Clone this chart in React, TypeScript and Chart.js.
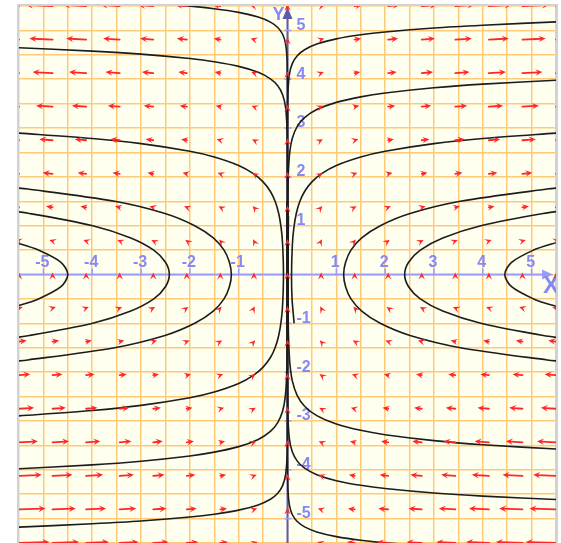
import { useEffect, useRef } from 'react';
import { Chart, registerables } from 'chart.js';

Chart.register(...registerables);

// ---- axis ranges / ticks ----
const X_RANGE = [-5.5, 5.5];
const Y_RANGE = [-5.5, 5.5];
const GRID_STEP = 0.5;
const X_TICKS = [-5, -4, -3, -2, -1, 1, 2, 3, 4, 5];
const X_TICK_LABELS = ['-5', '-4', '-3', '-2', '-1', '1', '2', '3', '4', '5'];
const Y_TICKS = [5, 4, 3, 2, 1, -1, -2, -3, -4, -5];
const Y_TICK_LABELS = ['5', '4', '3', '2', '1', '-1', '-2', '-3', '-4', '-5'];

// ---- direction field: arrow nodes and their components (dx = x*y, dy = 1) ----
const ARROW_XS = [-5.5, -4.8125, -4.125, -3.4375, -2.75, -2.0625, -1.375, -0.6875, 0, 0.6875, 1.375, 2.0625, 2.75, 3.4375, 4.125, 4.8125, 5.5];
const ARROW_YS = [5.5, 4.8125, 4.125, 3.4375, 2.75, 2.0625, 1.375, 0.6875, 0, -0.6875, -1.375, -2.0625, -2.75, -3.4375, -4.125, -4.8125, -5.5];
const FIELD_U = [
  [-30.3, -26.5, -22.7, -18.9, -15.1, -11.3, -7.6, -3.8, 0, 3.8, 7.6, 11.3, 15.1, 18.9, 22.7, 26.5, 30.3],
  [-26.5, -23.2, -19.9, -16.5, -13.2, -9.9, -6.6, -3.3, 0, 3.3, 6.6, 9.9, 13.2, 16.5, 19.9, 23.2, 26.5],
  [-22.7, -19.9, -17.0, -14.2, -11.3, -8.5, -5.7, -2.8, 0, 2.8, 5.7, 8.5, 11.3, 14.2, 17.0, 19.9, 22.7],
  [-18.9, -16.5, -14.2, -11.8, -9.5, -7.1, -4.7, -2.4, 0, 2.4, 4.7, 7.1, 9.5, 11.8, 14.2, 16.5, 18.9],
  [-15.1, -13.2, -11.3, -9.5, -7.6, -5.7, -3.8, -1.9, 0, 1.9, 3.8, 5.7, 7.6, 9.5, 11.3, 13.2, 15.1],
  [-11.3, -9.9, -8.5, -7.1, -5.7, -4.3, -2.8, -1.4, 0, 1.4, 2.8, 4.3, 5.7, 7.1, 8.5, 9.9, 11.3],
  [-7.6, -6.6, -5.7, -4.7, -3.8, -2.8, -1.9, -0.9, 0, 0.9, 1.9, 2.8, 3.8, 4.7, 5.7, 6.6, 7.6],
  [-3.8, -3.3, -2.8, -2.4, -1.9, -1.4, -0.9, -0.5, 0, 0.5, 0.9, 1.4, 1.9, 2.4, 2.8, 3.3, 3.8],
  [0, 0, 0, 0, 0, 0, 0, 0, 0, 0, 0, 0, 0, 0, 0, 0, 0],
  [3.8, 3.3, 2.8, 2.4, 1.9, 1.4, 0.9, 0.5, 0, -0.5, -0.9, -1.4, -1.9, -2.4, -2.8, -3.3, -3.8],
  [7.6, 6.6, 5.7, 4.7, 3.8, 2.8, 1.9, 0.9, 0, -0.9, -1.9, -2.8, -3.8, -4.7, -5.7, -6.6, -7.6],
  [11.3, 9.9, 8.5, 7.1, 5.7, 4.3, 2.8, 1.4, 0, -1.4, -2.8, -4.3, -5.7, -7.1, -8.5, -9.9, -11.3],
  [15.1, 13.2, 11.3, 9.5, 7.6, 5.7, 3.8, 1.9, 0, -1.9, -3.8, -5.7, -7.6, -9.5, -11.3, -13.2, -15.1],
  [18.9, 16.5, 14.2, 11.8, 9.5, 7.1, 4.7, 2.4, 0, -2.4, -4.7, -7.1, -9.5, -11.8, -14.2, -16.5, -18.9],
  [22.7, 19.9, 17.0, 14.2, 11.3, 8.5, 5.7, 2.8, 0, -2.8, -5.7, -8.5, -11.3, -14.2, -17.0, -19.9, -22.7],
  [26.5, 23.2, 19.9, 16.5, 13.2, 9.9, 6.6, 3.3, 0, -3.3, -6.6, -9.9, -13.2, -16.5, -19.9, -23.2, -26.5],
  [30.3, 26.5, 22.7, 18.9, 15.1, 11.3, 7.6, 3.8, 0, -3.8, -7.6, -11.3, -15.1, -18.9, -22.7, -26.5, -30.3],
];
const FIELD_V = 1;

// ---- solution curves, points [x, y] ----
const CURVE_VR1 = [[5.81, -1.8], [5.32, -1.75], [3.54, -1.5], [2.51, -1.25], [1.9, -1], [1.52, -0.75], [1.3, -0.5], [1.19, -0.25], [1.15, 0], [1.19, 0.25], [1.3, 0.5], [1.52, 0.75], [1.9, 1], [2.51, 1.25], [3.54, 1.5], [5.32, 1.75], [5.81, 1.8]];
const CURVE_VR2 = [[5.97, -1.35], [5.24, -1.25], [3.96, -1], [3.18, -0.75], [2.72, -0.5], [2.48, -0.25], [2.4, 0], [2.48, 0.25], [2.72, 0.5], [3.18, 0.75], [3.96, 1], [5.24, 1.25], [5.97, 1.35]];
const CURVE_VR3 = [[5.9, -0.75], [5.41, -0.625], [5.04, -0.5], [4.59, -0.25], [4.45, 0], [4.59, 0.25], [5.04, 0.5], [5.41, 0.625], [5.9, 0.75]];
const CURVE_VL1 = [[-5.81, -1.8], [-5.32, -1.75], [-3.54, -1.5], [-2.51, -1.25], [-1.9, -1], [-1.52, -0.75], [-1.3, -0.5], [-1.19, -0.25], [-1.15, 0], [-1.19, 0.25], [-1.3, 0.5], [-1.52, 0.75], [-1.9, 1], [-2.51, 1.25], [-3.54, 1.5], [-5.32, 1.75], [-5.81, 1.8]];
const CURVE_VL2 = [[-6.02, -1.35], [-5.29, -1.25], [-3.99, -1], [-3.21, -0.75], [-2.74, -0.5], [-2.5, -0.25], [-2.42, 0], [-2.5, 0.25], [-2.74, 0.5], [-3.21, 0.75], [-3.99, 1], [-5.29, 1.25], [-6.02, 1.35]];
const CURVE_VL3 = [[-5.96, -0.75], [-5.47, -0.625], [-5.1, -0.5], [-4.64, -0.25], [-4.5, 0], [-4.64, 0.25], [-5.1, 0.5], [-5.47, 0.625], [-5.96, 0.75]];

const CURVE_UR1 = [[5.6, 5.18], [4, 5.106], [3, 5.05], [2, 4.969], [1.5, 4.911], [1, 4.827], [0.6, 4.72], [0.35, 4.605], [0.2, 4.482], [0.1, 4.324], [0.04, 4.107], [0.01, 3.754], [0.002, 3.3], [0.0001, 2.2], [0, 1], [0, -1.5]];
const CURVE_UR2 = [[5.6, 3.984], [4, 3.899], [3, 3.824], [2, 3.717], [1.5, 3.639], [1, 3.526], [0.6, 3.378], [0.35, 3.214], [0.2, 3.035], [0.1, 2.797], [0.05, 2.537], [0.02, 2.146], [0.008, 1.665], [0.003, 0.9], [0.002, 0], [0.003, -0.9], [0.006, -1.5]];
const CURVE_UR3 = [[5.6, 2.904], [4, 2.786], [3, 2.681], [2, 2.525], [1.5, 2.408], [1, 2.234], [0.7, 2.068], [0.5, 1.898], [0.35, 1.7], [0.25, 1.489], [0.18, 1.249], [0.13, 0.954], [0.1, 0.62], [0.0825, 0], [0.0935, -0.5], [0.136, -1]];
const CURVE_ULTOP = [[-3.55, 5.6], [-2.04, 5.5], [-1.5, 5.445], [-1, 5.369], [-0.6, 5.273], [-0.35, 5.169], [-0.2, 5.06], [-0.1, 4.921], [-0.04, 4.731], [-0.01, 4.429], [-0.001, 3.874], [-0.0001, 3.22], [0, 2], [0, -1.5]];
const CURVE_UL2 = [[-5.6, 4.65], [-4, 4.576], [-3, 4.514], [-2, 4.423], [-1.5, 4.358], [-1, 4.263], [-0.6, 4.142], [-0.35, 4.009], [-0.2, 3.868], [-0.1, 3.684], [-0.04, 3.426], [-0.01, 2.994], [-0.002, 2.397], [-0.0003, 1.397], [-0.0001, 0], [-0.0002, -1.2]];
const CURVE_UL3 = [[-5.6, 2.904], [-4, 2.786], [-3, 2.681], [-2, 2.525], [-1.5, 2.408], [-1, 2.234], [-0.7, 2.068], [-0.5, 1.898], [-0.35, 1.7], [-0.25, 1.489], [-0.18, 1.249], [-0.13, 0.954], [-0.1, 0.62], [-0.0825, 0], [-0.1, -0.62], [-0.13, -0.954], [-0.18, -1.249], [-0.25, -1.489], [-0.35, -1.7], [-0.5, -1.898], [-0.7, -2.068], [-1, -2.234], [-1.5, -2.408], [-2, -2.525], [-3, -2.681], [-4, -2.786], [-5.6, -2.904]];
const CURVE_LL1 = [[-5.6, -5.18], [-4, -5.106], [-3, -5.05], [-2, -4.969], [-1.5, -4.911], [-1, -4.827], [-0.6, -4.72], [-0.35, -4.605], [-0.2, -4.482], [-0.1, -4.324], [-0.04, -4.107], [-0.01, -3.754], [-0.002, -3.3], [-0.0001, -2.2], [0, -1], [0, 1.5]];
const CURVE_LL2 = [[-5.6, -3.984], [-4, -3.899], [-3, -3.824], [-2, -3.717], [-1.5, -3.639], [-1, -3.526], [-0.6, -3.378], [-0.35, -3.214], [-0.2, -3.035], [-0.1, -2.797], [-0.05, -2.537], [-0.02, -2.146], [-0.008, -1.665], [-0.003, -0.9], [-0.002, 0], [-0.003, 0.9], [-0.006, 1.5]];
const CURVE_LR1 = [[5.6, -3.581], [4, -3.486], [3, -3.402], [2, -3.281], [1.5, -3.192], [1, -3.062], [0.6, -2.891], [0.35, -2.698], [0.2, -2.481], [0.1, -2.185], [0.05, -1.84], [0.025, -1.414], [0.015, -0.989], [0.0092, 0], [0.019, 1.2]];
const CURVE_LR2 = [[5.6, -4.613], [4, -4.539], [3, -4.476], [2, -4.384], [1.5, -4.318], [1, -4.223], [0.6, -4.1], [0.35, -3.967], [0.2, -3.823], [0.1, -3.637], [0.04, -3.376], [0.01, -2.937], [0.002, -2.325], [0.0004, -1.479], [0.0001, 0], [0.0002, 1.2]];
const CURVE_LRBOT = [[3.55, -5.6], [2.04, -5.5], [1.5, -5.445], [1, -5.369], [0.6, -5.273], [0.35, -5.169], [0.2, -5.06], [0.1, -4.921], [0.04, -4.731], [0.01, -4.429], [0.001, -3.874], [0.0001, -3.22], [0, -2], [0, 1.5]];

const CURVES = [
  CURVE_VR1, CURVE_VR2, CURVE_VR3, CURVE_VL1, CURVE_VL2, CURVE_VL3,
  CURVE_UR1, CURVE_UR2, CURVE_UR3, CURVE_ULTOP, CURVE_UL2, CURVE_UL3,
  CURVE_LL1, CURVE_LL2, CURVE_LR1, CURVE_LR2, CURVE_LRBOT,
];

const ARROW_SCALE = 1 / 48.8; // data units per field unit

const AXIS_COLOR = '#9c9cff';
const Y_AXIS_COLOR = '#5c5cae';
const LABEL_COLOR = '#8888f4';
const LABEL_FONT = 'bold 16px "Liberation Sans", Arial, sans-serif';

const fieldPlugin = {
  id: 'fieldPlugin',
  beforeDraw(chart: any) {
    const { ctx, chartArea: a } = chart;
    ctx.save();
    ctx.fillStyle = '#fffff0';
    ctx.fillRect(a.left, a.top, a.right - a.left, a.bottom - a.top);
    ctx.restore();
  },
  beforeDatasetsDraw(chart: any) {
    const { ctx, chartArea: a, scales } = chart;
    const xs = scales.x, ys = scales.y;
    const x0 = xs.getPixelForValue(0);
    const y0 = ys.getPixelForValue(0);
    ctx.save();
    ctx.beginPath();
    ctx.rect(a.left, a.top, a.right - a.left, a.bottom - a.top);
    ctx.clip();
    // x axis
    const xTip = xs.getPixelForValue(5.44);
    ctx.strokeStyle = AXIS_COLOR;
    ctx.fillStyle = AXIS_COLOR;
    ctx.lineWidth = 2;
    ctx.beginPath();
    ctx.moveTo(a.left, y0);
    ctx.lineTo(xTip - 4, y0);
    ctx.stroke();
    ctx.beginPath();
    ctx.moveTo(xTip, y0);
    ctx.lineTo(xTip - 11, y0 - 5);
    ctx.lineTo(xTip - 11, y0 + 5);
    ctx.closePath();
    ctx.fill();
    // x ticks
    ctx.lineWidth = 1.5;
    for (const v of X_TICKS) {
      const px = xs.getPixelForValue(v);
      ctx.beginPath();
      ctx.moveTo(px, y0 - 6);
      ctx.lineTo(px, y0 + 1);
      ctx.stroke();
    }
    // y axis
    const yTip = ys.getPixelForValue(5.5) + 1;
    ctx.strokeStyle = Y_AXIS_COLOR;
    ctx.fillStyle = Y_AXIS_COLOR;
    ctx.lineWidth = 2;
    ctx.beginPath();
    ctx.moveTo(x0, a.bottom);
    ctx.lineTo(x0, yTip + 4);
    ctx.stroke();
    ctx.beginPath();
    ctx.moveTo(x0, yTip);
    ctx.lineTo(x0 - 5, yTip + 12);
    ctx.lineTo(x0 + 5, yTip + 12);
    ctx.closePath();
    ctx.fill();
    ctx.strokeStyle = AXIS_COLOR;
    ctx.lineWidth = 1.5;
    for (const v of Y_TICKS) {
      const py = ys.getPixelForValue(v);
      ctx.beginPath();
      ctx.moveTo(x0 - 3, py);
      ctx.lineTo(x0 + 4, py);
      ctx.stroke();
    }
    // labels
    ctx.fillStyle = LABEL_COLOR;
    ctx.font = LABEL_FONT;
    ctx.textAlign = 'center';
    ctx.textBaseline = 'middle';
    X_TICKS.forEach((v, i) => {
      ctx.fillText(X_TICK_LABELS[i], xs.getPixelForValue(v) - 1, y0 - 12);
    });
    ctx.textAlign = 'left';
    Y_TICKS.forEach((v, i) => {
      ctx.fillText(Y_TICK_LABELS[i], x0 + 9, ys.getPixelForValue(v) - 5);
    });
    ctx.font = 'bold 24px "Liberation Sans", Arial, sans-serif';
    ctx.textAlign = 'center';
    ctx.fillText('X', xs.getPixelForValue(5.4), y0 + 12);
    ctx.font = 'bold 18px "Liberation Sans", Arial, sans-serif';
    ctx.fillText('Y', x0 - 9, a.top + 9);
    ctx.restore();
  },
  afterDatasetsDraw(chart: any) {
    const { ctx, chartArea: a, scales } = chart;
    const xs = scales.x, ys = scales.y;
    ctx.save();
    ctx.beginPath();
    ctx.rect(a.left, a.top, a.right - a.left, a.bottom - a.top);
    ctx.clip();
    ctx.strokeStyle = '#ff2626';
    ctx.fillStyle = '#ff2626';
    ctx.lineWidth = 1.8;
    ctx.lineCap = 'round';
    ARROW_YS.forEach((yv, r) => {
      ARROW_XS.forEach((xv, c) => {
        const u = FIELD_U[r][c];
        const tx = xs.getPixelForValue(xv);
        const ty = ys.getPixelForValue(yv);
        const hx = xs.getPixelForValue(xv + u * ARROW_SCALE);
        const hy = ys.getPixelForValue(yv + FIELD_V * ARROW_SCALE);
        let dx = hx - tx, dy = hy - ty;
        const len = Math.hypot(dx, dy) || 1;
        const ux = dx / len, uy = dy / len;
        const L = Math.max(len, 2);
        const px = tx + ux * L, py = ty + uy * L;
        const hl = 7, hw = 3.2;
        if (L > hl * 0.6) {
          ctx.beginPath();
          ctx.moveTo(tx, ty);
          ctx.lineTo(px - ux * hl * 0.6, py - uy * hl * 0.6);
          ctx.stroke();
        }
        const bx = px - ux * hl, by = py - uy * hl;
        ctx.beginPath();
        ctx.moveTo(px, py);
        ctx.lineTo(bx - uy * hw, by + ux * hw);
        ctx.lineTo(px - ux * hl * 0.6, py - uy * hl * 0.6);
        ctx.lineTo(bx + uy * hw, by - ux * hw);
        ctx.closePath();
        ctx.fill();
      });
    });
    ctx.restore();
  },
  afterDraw(chart: any) {
    const { ctx, chartArea: a } = chart;
    ctx.save();
    ctx.strokeStyle = '#d2d2d2';
    ctx.lineWidth = 2;
    ctx.strokeRect(a.left - 1, a.top - 1, a.right - a.left + 2, a.bottom - a.top + 2);
    ctx.restore();
  },
};

export default function App() {
  const ref = useRef<HTMLCanvasElement>(null);
  useEffect(() => {
    const canvas = ref.current;
    if (!canvas) return;
    const gridOpts = { color: '#ffca78', lineWidth: 1.5, drawTicks: false };
    const chart = new Chart(canvas, {
      type: 'scatter',
      data: {
        datasets: CURVES.map((pts, i) => ({
          label: 'curve' + i,
          data: pts.map(([x, y]) => ({ x, y })),
          showLine: true,
          borderColor: '#1c1c1c',
          borderWidth: 1.6,
          pointRadius: 0,
          pointHoverRadius: 0,
          tension: 0.3,
          fill: false,
        })),
      },
      options: {
        responsive: false,
        animation: false,
        devicePixelRatio: 1,
        layout: { padding: { left: 19, top: 6, right: 5, bottom: 17 } },
        plugins: { legend: { display: false }, tooltip: { enabled: false } },
        events: [],
        scales: {
          x: {
            type: 'linear', min: X_RANGE[0], max: X_RANGE[1],
            ticks: { display: false, stepSize: GRID_STEP, maxTicksLimit: 100 },
            grid: gridOpts, border: { display: false },
          },
          y: {
            type: 'linear', min: Y_RANGE[0], max: Y_RANGE[1],
            ticks: { display: false, stepSize: GRID_STEP, maxTicksLimit: 100 },
            grid: gridOpts, border: { display: false },
          },
        },
      },
      plugins: [fieldPlugin],
    } as any);
    return () => chart.destroy();
  }, []);
  return (
    <div style={{ position: 'fixed', left: 0, top: 0, width: 561, height: 543, overflow: 'hidden', background: '#ffffff' }}>
      <canvas ref={ref} width={561} height={560} style={{ display: 'block', width: 561, height: 560 }} />
    </div>
  );
}
